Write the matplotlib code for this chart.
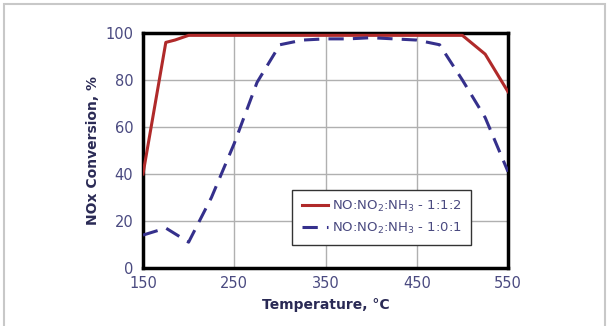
import matplotlib
matplotlib.use("Agg")
import matplotlib.pyplot as plt
from matplotlib.patches import Rectangle

plt.rcParams['font.family'] = ['DejaVu Sans']
plt.rcParams['mathtext.fontset'] = 'dejavusans'

temp_red = [150, 175, 185, 200, 250, 300, 350, 400, 450, 500, 525, 550]
conv_red = [40, 96, 97, 99, 99, 99, 99, 99, 99, 99, 91, 75]

temp_blue = [150, 175, 200, 225, 250, 275, 300, 325, 350, 375, 400, 425, 450, 475, 500, 525, 550]
conv_blue = [14, 17, 11, 30, 53, 79, 95, 97, 97.5, 97.5, 98, 97.5, 97, 95, 80, 64, 41]

label_red = r"NO:NO$_2$:NH$_3$ - 1:1:2"
label_blue = r"NO:NO$_2$:NH$_3$ - 1:0:1"

xticks = [150, 250, 350, 450, 550]
yticks = [0, 20, 40, 60, 80, 100]

fig = plt.figure(figsize=(6.10, 3.26), dpi=100)
fig.patches.append(Rectangle((0.007, -0.1), 0.985, 1.088, transform=fig.transFigure,
                             fill=False, edgecolor='#c8c8c8', linewidth=1.5))
ax = fig.add_axes([143/610, 1 - 268/326, (508 - 143)/610, (268 - 33)/326])

ax.plot(temp_red, conv_red, color='#b02a2a', linewidth=2.2, label=label_red, zorder=3)
ax.plot(temp_blue, conv_blue, color='#35308c', linewidth=2.2, linestyle=(0, (5, 3)),
        label=label_blue, zorder=3)

ax.set_xlim(150, 550)
ax.set_ylim(0, 100)
ax.set_xticks(xticks)
ax.set_yticks(yticks)
ax.grid(True, color='#b0b0b0', linewidth=1.0)
ax.set_axisbelow(True)
for s in ax.spines.values():
    s.set_linewidth(2.5)
    s.set_color('black')
ax.tick_params(length=0, labelsize=10.5, labelcolor='#4a4a80')
ax.tick_params(axis='y', pad=7)
ax.tick_params(axis='x', pad=6)

ax.set_xlabel("Temperature, °C", fontsize=10, fontweight='bold', color='#2a2a55', labelpad=5)
ax.set_ylabel("NOx Conversion, %", fontsize=10, fontweight='bold', color='#2a2a55', labelpad=4)

leg = ax.legend(loc='lower right', bbox_to_anchor=(0.917, 0.07), fontsize=9.5,
                frameon=True, fancybox=False, edgecolor='#333333', framealpha=1,
                handlelength=2.0, handletextpad=0.3, borderpad=0.7, labelspacing=0.5)
leg.get_frame().set_linewidth(1.0)
for t in leg.get_texts():
    t.set_color('#4a4a80')

fig.savefig("out.png", dpi=100)
